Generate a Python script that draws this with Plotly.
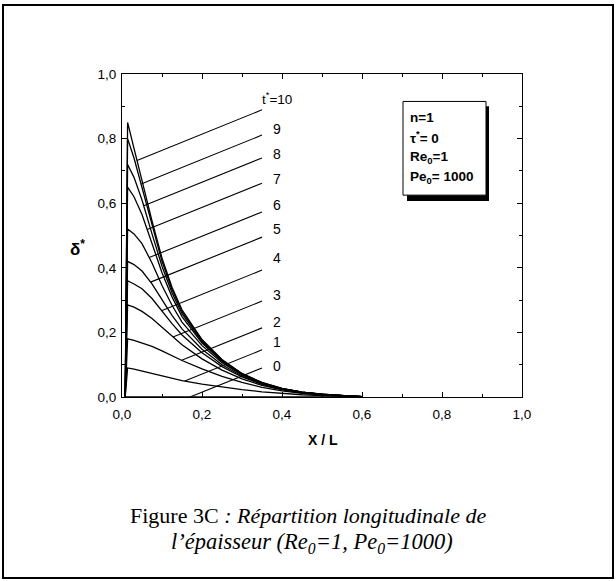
import numpy as np
import plotly.graph_objects as go

# ---------------- data ----------------
x_grid = [0.008, 0.014, 0.03, 0.05, 0.075, 0.1, 0.125, 0.15, 0.2, 0.25, 0.3, 0.35, 0.4, 0.45, 0.5, 0.55, 0.6]

t_labels = [0, 1, 2, 3, 4, 5, 6, 7, 8, 9, 10]

d_t0 = [0, 0, 0, 0, 0, 0, 0, 0, 0, 0, 0, 0, 0, 0, 0, 0, 0]
d_t1 = [0, 0.09, 0.086, 0.080, 0.072, 0.064, 0.057, 0.051, 0.040, 0.031, 0.023, 0.016, 0.011, 0.007, 0.004, 0.002, 0.001]
d_t2 = [0, 0.18, 0.175, 0.168, 0.157, 0.143, 0.128, 0.113, 0.087, 0.064, 0.045, 0.030, 0.019, 0.011, 0.006, 0.003, 0.001]
d_t3 = [0, 0.285, 0.278, 0.265, 0.243, 0.216, 0.188, 0.162, 0.118, 0.083, 0.056, 0.036, 0.022, 0.013, 0.007, 0.004, 0.001]
d_t4 = [0, 0.36, 0.35, 0.335, 0.305, 0.265, 0.227, 0.192, 0.137, 0.094, 0.062, 0.039, 0.024, 0.014, 0.008, 0.004, 0.001]
d_t5 = [0, 0.42, 0.41, 0.39, 0.35, 0.30, 0.253, 0.211, 0.148, 0.100, 0.065, 0.041, 0.025, 0.014, 0.008, 0.004, 0.001]
d_t6 = [0, 0.52, 0.505, 0.475, 0.415, 0.345, 0.284, 0.232, 0.159, 0.106, 0.068, 0.042, 0.025, 0.014, 0.008, 0.004, 0.001]
d_t7 = [0, 0.65, 0.62, 0.565, 0.475, 0.385, 0.310, 0.249, 0.167, 0.110, 0.070, 0.043, 0.026, 0.015, 0.008, 0.004, 0.001]
d_t8 = [0, 0.72, 0.68, 0.61, 0.505, 0.405, 0.323, 0.258, 0.171, 0.112, 0.071, 0.044, 0.026, 0.015, 0.008, 0.004, 0.001]
d_t9 = [0, 0.80, 0.74, 0.65, 0.53, 0.42, 0.333, 0.265, 0.175, 0.114, 0.072, 0.044, 0.026, 0.015, 0.008, 0.004, 0.001]
d_t10 = [0, 0.85, 0.77, 0.67, 0.545, 0.43, 0.340, 0.270, 0.178, 0.116, 0.073, 0.045, 0.027, 0.015, 0.008, 0.004, 0.001]

curves = [d_t0, d_t1, d_t2, d_t3, d_t4, d_t5, d_t6, d_t7, d_t8, d_t9, d_t10]

# label texts and the y where each leader line ends / where the label sits
label_texts = ["0", "1", "2", "3", "4", "5", "6", "7", "8", "9", "t<sup>*</sup>=10"]
leader_end_y = [0.090, 0.146, 0.214, 0.297, 0.393, 0.495, 0.573, 0.662, 0.740, 0.811, 0.889]
label_y = [0.096, 0.170, 0.232, 0.316, 0.430, 0.520, 0.594, 0.675, 0.752, 0.830, 0.891]

xticks = [0, 0.2, 0.4, 0.6, 0.8, 1.0]
yticks = [0, 0.2, 0.4, 0.6, 0.8, 1.0]

# ---------------- figure ----------------
W, H = 616, 581
L, R, T, B = 122, 94, 74, 184
PW, PH = W - L - R, H - T - B


def px2paper_x(px):
    return (px - L) / PW


def px2paper_y(py):
    return (H - B - py) / PH


fig = go.Figure()

for vals in curves:
    fig.add_trace(go.Scatter(x=x_grid, y=vals, mode="lines",
                             line=dict(color="black", width=1.3),
                             showlegend=False, hoverinfo="skip"))

# leader lines: parallel lines from each label down to its curve
leader_end_x = 0.35
slope = 0.5
xf = np.linspace(0.014, leader_end_x, 3000)
annotations = []
for t, vals, ye, yl, txt in zip(t_labels, curves, leader_end_y, label_y, label_texts):
    cf = np.interp(xf, x_grid, vals)
    lf = ye - slope * (leader_end_x - xf)
    idx = np.argmax(cf - lf <= 0)
    xs, ys = xf[idx], cf[idx]
    fig.add_trace(go.Scatter(x=[xs, leader_end_x], y=[ys, ye], mode="lines",
                             line=dict(color="black", width=1.1),
                             showlegend=False, hoverinfo="skip"))
    if t == 10:
        annotations.append(dict(x=0.346, y=yl, xref="x", yref="y", text=txt,
                                showarrow=False, xanchor="left", yanchor="bottom",
                                font=dict(size=13.5, color="black")))
    else:
        annotations.append(dict(x=0.3875, y=yl, xref="x", yref="y", text=txt,
                                showarrow=False, xanchor="center", yanchor="middle",
                                font=dict(size=14, color="black")))

# parameter box text
box_lines = ["<b>n=1</b>", "<b>τ<sup>*</sup>= 0</b>", "<b>Re<sub>0</sub>=1</b>", "<b>Pe<sub>0</sub>= 1000</b>"]
box_line_y = [0.864, 0.805, 0.742, 0.681]
for txt, yy in zip(box_lines, box_line_y):
    annotations.append(dict(x=0.715, y=yy, xref="x", yref="y", text=txt,
                            showarrow=False, xanchor="left", yanchor="middle",
                            font=dict(size=13.5, color="black")))

# axis titles
annotations.append(dict(x=px2paper_x(323), y=px2paper_y(440), xref="paper", yref="paper",
                        text="<b>X / L</b>", showarrow=False,
                        xanchor="center", yanchor="middle",
                        font=dict(size=14, color="black")))
annotations.append(dict(x=px2paper_x(77), y=px2paper_y(248), xref="paper", yref="paper",
                        text="<b>δ<sup>*</sup></b>", showarrow=False,
                        xanchor="center", yanchor="middle",
                        font=dict(size=17, color="black")))

# caption
serif = "Liberation Serif, Times New Roman, serif"
annotations.append(dict(x=px2paper_x(308), y=px2paper_y(515), xref="paper", yref="paper",
                        text="Figure 3C<i> : Répartition longitudinale de</i>",
                        showarrow=False, xanchor="center", yanchor="middle",
                        font=dict(family=serif, size=22, color="black")))
annotations.append(dict(x=px2paper_x(312), y=px2paper_y(543), xref="paper", yref="paper",
                        text="<i>l’épaisseur (Re<sub>0</sub>=1, Pe<sub>0</sub>=1000)</i>",
                        showarrow=False, xanchor="center", yanchor="middle",
                        font=dict(family=serif, size=22.5, color="black")))

shapes = [
    # shadow of parameter box
    dict(type="rect", xref="x", yref="y", x0=0.7125, x1=0.9175, y0=0.607, y1=0.90,
         fillcolor="black", line=dict(width=0), layer="above"),
    # parameter box
    dict(type="rect", xref="x", yref="y", x0=0.7025, x1=0.91, y0=0.625, y1=0.915,
         fillcolor="white", line=dict(color="black", width=1), layer="above"),
    # outer frame of the figure
    dict(type="rect", xref="paper", yref="paper",
         x0=px2paper_x(3), x1=px2paper_x(613), y0=px2paper_y(578), y1=px2paper_y(5),
         line=dict(color="black", width=2)),
]

axis_common = dict(
    range=[0, 1], showgrid=False, zeroline=False,
    showline=True, linecolor="black", linewidth=1, mirror="allticks",
    ticks="inside", ticklen=5, tickcolor="black", tickwidth=1,
    tickformat=".1f",
    tickfont=dict(family="Liberation Sans, Arial, sans-serif", size=13.5, color="black"),
    minor=dict(dtick=0.1, ticks="inside", ticklen=3, tickcolor="black", tickwidth=1, showgrid=False),
)

fig.update_layout(
    width=W, height=H, autosize=False,
    margin=dict(l=L, r=R, t=T, b=B),
    paper_bgcolor="white", plot_bgcolor="white",
    separators=", ",
    font=dict(family="Liberation Sans, Arial, sans-serif", color="black"),
    xaxis=dict(axis_common, tickvals=xticks, ticklabelstandoff=5),
    yaxis=dict(axis_common, tickvals=yticks, ticklabelstandoff=2),
    annotations=annotations,
    shapes=shapes,
    showlegend=False,
)

fig.write_html("out.html",
               config={"displayModeBar": False, "staticPlot": True},
               post_script="document.body.style.margin='0';document.body.style.overflow='hidden';")
